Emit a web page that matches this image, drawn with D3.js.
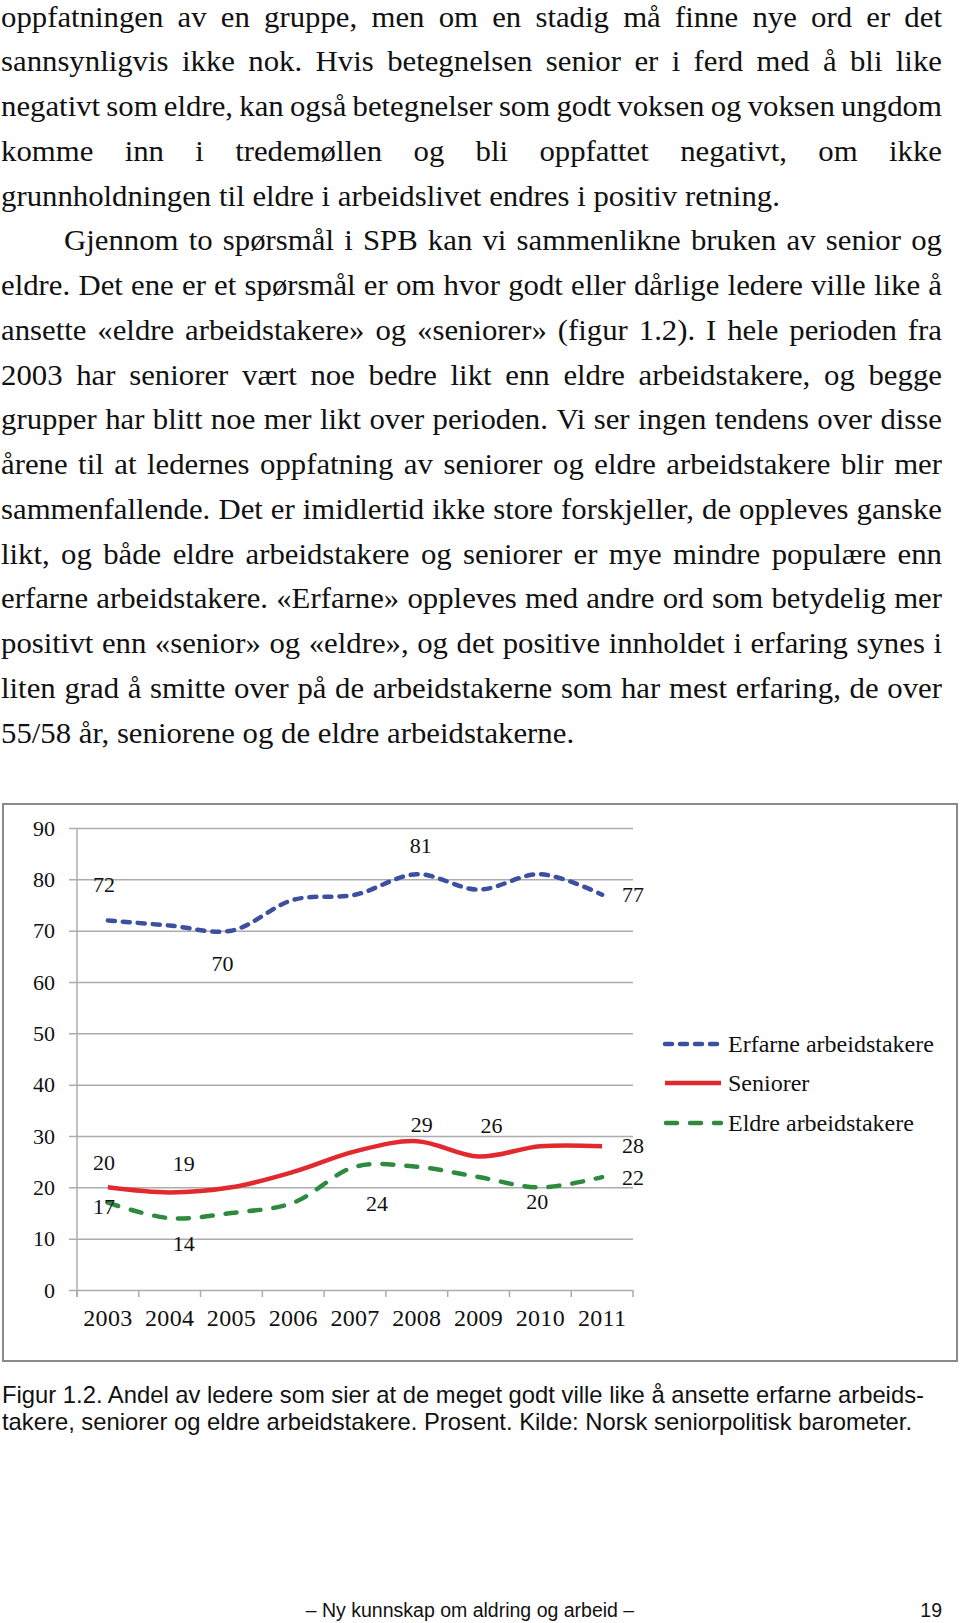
<!DOCTYPE html>
<html><head><meta charset="utf-8">
<script src="https://cdn.jsdelivr.net/npm/d3@7"></script>
<style>body{margin:0;background:#fff}svg{display:block}</style>
</head><body>
<script>
// ---------- data ----------
const years = ["2003","2004","2005","2006","2007","2008","2009","2010","2011"];
const erfarne = [72,71,70,76,77,81,78,81,77];
const seniorer = [20,19,20,23,27,29,26,28,28];
const eldre = [17,14,15,17,24,24,22,20,22];
const yTicks = [0,10,20,30,40,50,60,70,80,90];
const seriesNames = ["Erfarne arbeidstakere","Seniorer","Eldre arbeidstakere"];
// indices of points that carry a value label
const erfarneLabelIdx = [0,2,5,8];
const seniorerLabelIdx = [0,1,5,6,8];
const eldreLabelIdx = [0,1,4,7,8];

const bodyLines = [
  "oppfatningen av en gruppe, men om en stadig må finne nye ord er det",
  "sannsynligvis ikke nok. Hvis betegnelsen senior er i ferd med å bli like",
  "negativt som eldre, kan også betegnelser som godt voksen og voksen ungdom",
  "komme inn i tredemøllen og bli oppfattet negativt, om ikke",
  "grunnholdningen til eldre i arbeidslivet endres i positiv retning.",
  "Gjennom to spørsmål i SPB kan vi sammenlikne bruken av senior og",
  "eldre. Det ene er et spørsmål er om hvor godt eller dårlige ledere ville like å",
  "ansette «eldre arbeidstakere» og «seniorer» (figur 1.2). I hele perioden fra",
  "2003 har seniorer vært noe bedre likt enn eldre arbeidstakere, og begge",
  "grupper har blitt noe mer likt over perioden. Vi ser ingen tendens over disse",
  "årene til at ledernes oppfatning av seniorer og eldre arbeidstakere blir mer",
  "sammenfallende. Det er imidlertid ikke store forskjeller, de oppleves ganske",
  "likt, og både eldre arbeidstakere og seniorer er mye mindre populære enn",
  "erfarne arbeidstakere. «Erfarne» oppleves med andre ord som betydelig mer",
  "positivt enn «senior» og «eldre», og det positive innholdet i erfaring synes i",
  "liten grad å smitte over på de arbeidstakerne som har mest erfaring, de over",
  "55/58 år, seniorene og de eldre arbeidstakerne."
];
const paragraphEnds = [4,16];
const paragraphStarts = [5];
const captionLines = [
  "Figur 1.2. Andel av ledere som sier at de meget godt ville like å ansette erfarne arbeids-",
  "takere, seniorer og eldre arbeidstakere. Prosent. Kilde: Norsk seniorpolitisk barometer."
];
const footerText = "– Ny kunnskap om aldring og arbeid –";
const pageNumber = "19";

// ---------- page ----------
const W = 960, H = 1623;
const svg = d3.select("body").append("svg").attr("width", W).attr("height", H);

// body text (justified)
const bodyFont = "'Liberation Serif', 'Times New Roman', serif";
const bodySize = 29;
const measurer = svg.append("text").attr("font-family", bodyFont).attr("font-size", bodySize).attr("x", -1000).attr("y", -1000);
function measure(s){ measurer.text(s); return measurer.node().getComputedTextLength(); }
const sx = (780 + 572) / (measure(bodyLines[4]) + measure(bodyLines[16]));
const left = 1, right = 942, indent = 63;
const base0 = 26.5, lh = 44.75;
const spaceW = measure("a b") - measure("ab");
bodyLines.forEach((line, i) => {
  const words = line.split(" ");
  const widths = words.map(measure);
  const x0 = left + (paragraphStarts.includes(i) ? indent : 0);
  let gap, s = sx;
  if (paragraphEnds.includes(i)) gap = spaceW;
  else {
    const avail = right - x0;
    const minNat = d3.sum(widths) + (words.length - 1) * spaceW * 0.7;
    if (minNat * s > avail) s = avail / minNat;
    gap = (avail / s - d3.sum(widths)) / (words.length - 1);
  }
  const t = svg.append("text")
    .attr("font-family", bodyFont).attr("font-size", bodySize).attr("fill", "#111")
    .attr("transform", `translate(${x0},${base0 + i * lh}) scale(${s},1)`);
  let x = 0;
  words.forEach((w, k) => {
    t.append("tspan").attr("x", x).attr("y", 0).text(w);
    x += widths[k] + gap;
  });
});
measurer.remove();

// ---------- chart ----------
const chartFont = "'Liberation Serif', 'Times New Roman', serif";
svg.append("rect").attr("x", 3).attr("y", 804).attr("width", 954).attr("height", 557)
  .attr("fill", "#fff").attr("stroke", "#8a8a8a").attr("stroke-width", 2);

const x = d3.scaleBand().domain(years).range([77, 633]);
const y = d3.scaleLinear().domain([0, 90]).range([1290, 828]);
const cx = d => x(d) + x.bandwidth() / 2;

// gridlines + y axis
const yAxis = d3.axisLeft(y).tickValues(yTicks).tickSize(-(633 - 69)).tickPadding(14).tickSizeOuter(0);
const gy = svg.append("g").attr("transform", "translate(69,0)").call(yAxis);
gy.select(".domain").remove();
gy.selectAll(".tick line").attr("stroke", "#acacac").attr("stroke-width", 1.5);
gy.selectAll(".tick text").attr("font-family", chartFont).attr("font-size", 22).attr("fill", "#111").attr("x", -14);
// vertical axis line
svg.append("line").attr("x1", 77).attr("x2", 77).attr("y1", 828).attr("y2", 1297)
  .attr("stroke", "#acacac").attr("stroke-width", 1.5);

// x axis
const gx = svg.append("g").attr("transform", "translate(0,1290)")
  .call(d3.axisBottom(x).tickSize(0).tickPadding(0));
gx.select(".domain").remove();
gx.selectAll(".tick text").attr("font-family", chartFont).attr("font-size", 24).attr("fill", "#111")
  .attr("letter-spacing", 0.3).attr("dy", 0).attr("y", 36);
// band boundary ticks
svg.append("g").selectAll("line").data(years.concat(["end"])).join("line")
  .attr("x1", (d, i) => i < years.length ? x(d) : x(years[years.length - 1]) + x.bandwidth())
  .attr("x2", (d, i) => i < years.length ? x(d) : x(years[years.length - 1]) + x.bandwidth())
  .attr("y1", 1290).attr("y2", 1297).attr("stroke", "#acacac").attr("stroke-width", 1.5);

// lines
const colors = ["#3c4fa0", "#e2292d", "#2e8a3f"];
const dashes = ["7,8", null, "11,13"];
const seriesData = [erfarne, seniorer, eldre];
const lineGen = d3.line().x((d, i) => cx(years[i])).y(d => y(d)).curve(d3.curveCatmullRom.alpha(0.5));
seriesData.forEach((s, k) => {
  svg.append("path").attr("d", lineGen(s)).attr("fill", "none")
    .attr("stroke", colors[k]).attr("stroke-width", 4.5)
    .attr("stroke-linecap", dashes[k] ? "round" : "butt")
    .attr("stroke-dasharray", dashes[k]);
});

// value labels (offset of label centre/baseline from the point)
const labelOffsets = [
  [[-4,-28],[-9,40],[4,-21],[31,7]],
  [[-4,-17],[14,-21],[5,-9],[13,-24],[31,7]],
  [[-4,11],[14,33],[22,44],[-3,22],[31,8]]
];
const labelIdx = [erfarneLabelIdx, seniorerLabelIdx, eldreLabelIdx];
seriesData.forEach((s, k) => {
  svg.append("g").selectAll("text").data(labelIdx[k]).join("text")
    .attr("x", (d, j) => cx(years[d]) + labelOffsets[k][j][0])
    .attr("y", (d, j) => y(s[d]) + labelOffsets[k][j][1])
    .attr("text-anchor", "middle").attr("font-family", chartFont).attr("font-size", 22).attr("fill", "#111")
    .text(d => s[d]);
});

// legend
const legendY = [1044, 1083, 1123];
seriesNames.forEach((n, k) => {
  svg.append("line").attr("x1", k === 2 ? 666 : 665).attr("x2", 721).attr("y1", legendY[k]).attr("y2", legendY[k])
    .attr("stroke", colors[k]).attr("stroke-width", 4.5)
    .attr("stroke-linecap", dashes[k] ? "round" : "butt")
    .attr("stroke-dasharray", dashes[k]);
  svg.append("text").attr("x", 728).attr("y", legendY[k] + 8)
    .attr("font-family", chartFont).attr("font-size", 24).attr("fill", "#111").text(n);
});

// caption
const capFont = "'Liberation Sans', Arial, sans-serif";
captionLines.forEach((l, i) => {
  svg.append("text").attr("x", 2).attr("y", 1403 + i * 27)
    .attr("font-family", capFont).attr("font-size", 23.8).attr("fill", "#111").text(l);
});

// footer
svg.append("text").attr("x", 470).attr("y", 1617).attr("text-anchor", "middle")
  .attr("font-family", capFont).attr("font-size", 19.5).attr("fill", "#111").text(footerText);
svg.append("text").attr("x", 942).attr("y", 1617).attr("text-anchor", "end")
  .attr("font-family", capFont).attr("font-size", 19.5).attr("fill", "#111").text(pageNumber);
</script>
</body></html>
